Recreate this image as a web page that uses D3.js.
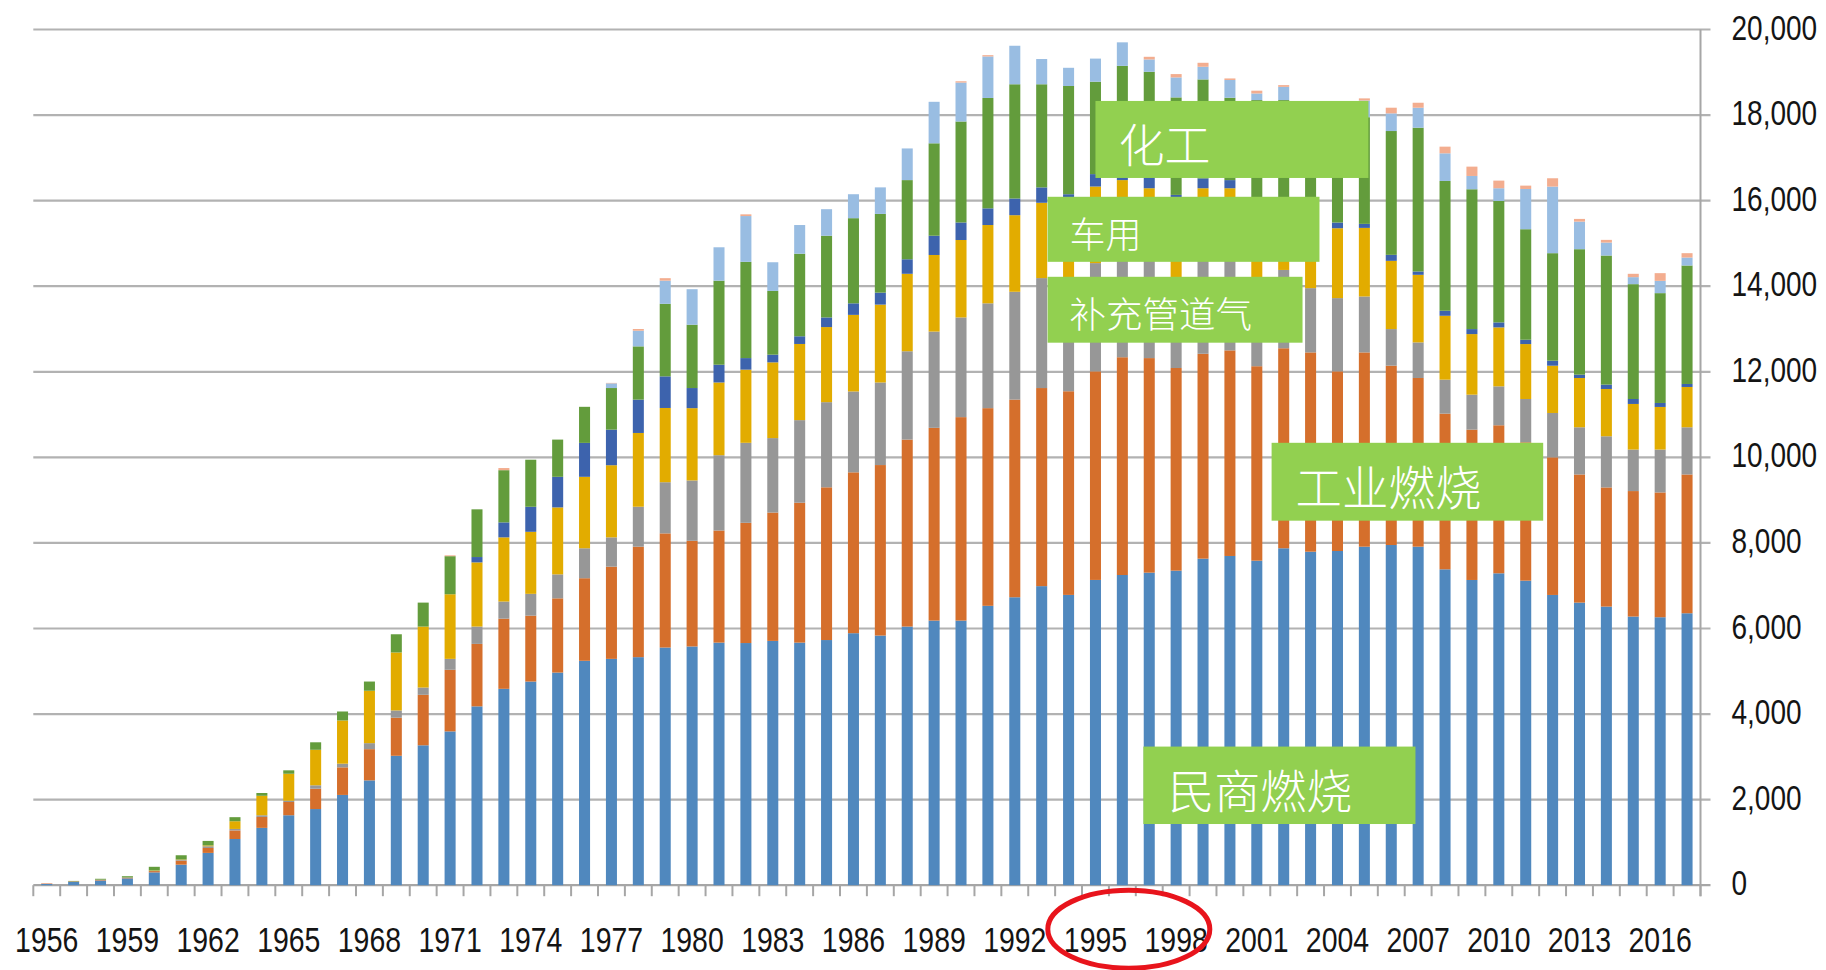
<!DOCTYPE html>
<html>
<head>
<meta charset="utf-8">
<script src="https://cdn.jsdelivr.net/npm/d3@7"></script>
<style>
  body { margin: 0; background: #fff; }
  .num { font-family: "Liberation Sans", Arial, sans-serif; fill: #141414; }
  .boxText { font-family: "Noto Sans CJK SC", sans-serif; fill: #fff; font-weight: 300; }
</style>
</head>
<body>
<svg id="chart" width="1826" height="970"></svg>
<script>
// 年份 1956-2017
const years = d3.range(1956, 2018);
const keys = ["民商燃烧", "工业燃烧", "补充管道气", "车用", "系列5", "化工", "系列7", "系列8"];
const colors = ["#5088BE", "#D56F2C", "#979797", "#E2AC00", "#3D63AD", "#639C3C", "#99BDE2", "#F3AD8F"];

const minshang = [30, 80, 110, 160, 300, 480, 755, 1080, 1340, 1635,
  1780, 2110, 2450, 3025, 3270, 3595, 4180, 4590, 4760, 4970,
  5245, 5290, 5330, 5555, 5580, 5670, 5660, 5710, 5670, 5730,
  5890, 5835, 6045, 6185, 6185, 6530, 6730, 6990, 6785, 7135,
  7250, 7305, 7352, 7632, 7695, 7585, 7875, 7795, 7811, 7912,
  7951, 7912, 7383, 7134, 7290, 7118, 6784, 6605, 6512, 6279,
  6263, 6356];
const gongye = [10, 10, 15, 15, 30, 95, 115, 200, 255, 310,
  475, 645, 730, 890, 1180, 1440, 1460, 1640, 1540, 1735,
  1930, 2155, 2582, 2668, 2470, 2620, 2810, 3000, 3270, 3570,
  3760, 3985, 4370, 4505, 4755, 4620, 4620, 4630, 4760, 4875,
  5090, 5015, 4736, 4789, 4805, 4545, 4675, 4658, 4199, 4541,
  4192, 3943, 3639, 3514, 3460, 3234, 3216, 2995, 2785, 2933,
  2917, 3244];
const buchong = [0, 0, 5, 5, 5, 15, 40, 35, 40, 30,
  80, 85, 140, 170, 170, 255, 405, 400, 510, 560,
  700, 685, 934, 1196, 1410, 1760, 1870, 1740, 1930, 1990,
  1890, 1930, 2065, 2250, 2330, 2450, 2520, 2570, 2605, 2530,
  2310, 2280, 2062, 2279, 2200, 1770, 1830, 1502, 1712, 1307,
  855, 832, 794, 817, 910, 1012, 1037, 1103, 1196, 970,
  1002, 1103];
const cheyong = [0, 0, 0, 0, 10, 10, 20, 180, 455, 630,
  830, 1010, 1225, 1355, 1425, 1510, 1500, 1500, 1450, 1565,
  1670, 1686, 1724, 1735, 1690, 1700, 1710, 1770, 1780, 1755,
  1790, 1820, 1810, 1790, 1810, 1830, 1790, 1760, 1930, 1790,
  1830, 1690, 1900, 1590, 1590, 1900, 1370, 1645, 1633, 1603,
  1595, 1579, 1493, 1416, 1377, 1284, 1105, 1152, 1105, 1066,
  996, 942];
const series5 = [0, 0, 0, 0, 0, 0, 0, 0, 0, 0,
  0, 0, 0, 0, 0, 0, 125, 350, 585, 715,
  793, 832, 779, 739, 470, 415, 270, 180, 180, 225,
  270, 280, 340, 450, 410, 390, 390, 360, 70, 290,
  270, 270, 84, 230, 190, 100, 150, 150, 133, 94,
  140, 78, 117, 117, 117, 101, 117, 78, 102, 116,
  93, 70];
const huagong = [0, 10, 20, 30, 85, 100, 105, 95, 65, 80,
  175, 210, 215, 425, 560, 890, 1115, 1220, 1100, 870,
  843, 972, 1245, 1696, 1480, 1965, 2250, 1490, 1930, 1910,
  1990, 1840, 1850, 2160, 2360, 2580, 2670, 2410, 2530, 2160,
  2400, 2452, 2279, 2313, 1925, 2450, 2450, 2150, 1812, 2493,
  2894, 3361, 3034, 3268, 2839, 2583, 2513, 2932, 3017, 2684,
  2567, 2769];
const series7 = [0, 0, 0, 0, 0, 0, 0, 0, 0, 0,
  0, 0, 0, 0, 0, 0, 0, 0, 0, 0,
  0, 110, 366, 541, 830, 780, 1070, 670, 670, 620,
  560, 620, 740, 970, 910, 970, 900, 590, 425, 540,
  550, 288, 467, 296, 415, 155, 310, 350, 500, 390,
  413, 467, 646, 311, 297, 941, 1556, 645, 303, 164,
  288, 186];
const series8 = [10, 0, 0, 0, 0, 0, 0, 0, 0, 0,
  0, 0, 0, 0, 0, 20, 0, 50, 0, 0,
  0, 10, 40, 58, 0, 0, 40, 0, 0, 0,
  0, 0, 0, 0, 30, 30, 0, 0, 0, 0,
  0, 62, 78, 93, 36, 65, 40, 50, 50, 50,
  132, 116, 156, 218, 178, 78, 195, 63, 63, 78,
  179, 102];

const yTicks = [0, 2000, 4000, 6000, 8000, 10000, 12000, 14000, 16000, 18000, 20000];
const xTickYears = [1956, 1959, 1962, 1965, 1968, 1971, 1974, 1977, 1980, 1983, 1986,
  1989, 1992, 1995, 1998, 2001, 2004, 2007, 2010, 2013, 2016];

const allSeries = [minshang, gongye, buchong, cheyong, series5, huagong, series7, series8];
const table = years.map((y, i) => {
  const row = { year: y };
  keys.forEach((k, j) => { row[k] = allSeries[j][i]; });
  return row;
});

const svg = d3.select("#chart");
const width = +svg.attr("width");
const height = +svg.attr("height");
const margin = { left: 33.3, right: 125.5, top: 29.5, bottom: 84.8 };
const x0 = margin.left, x1 = width - margin.right;
const yBase = height - margin.bottom;

const xScale = d3.scaleBand()
  .domain(years)
  .range([x0, x1])
  .paddingInner(0.59)
  .paddingOuter(0.295);
const yScale = d3.scaleLinear()
  .domain([0, 20000])
  .range([yBase, margin.top]);

const step = xScale.step();
// 类别中心（可以是小数年份）
const xAt = t => x0 + (t - years[0] + 0.5) * step;

// 网格线 + 右侧刻度
svg.append("g").selectAll("line")
  .data(yTicks)
  .join("line")
  .attr("x1", x0)
  .attr("x2", x1 + 10)
  .attr("y1", d => yScale(d))
  .attr("y2", d => yScale(d))
  .attr("stroke", d => d == 0 ? "#a6a6a6" : "#b2b2b2")
  .attr("stroke-width", 2.2);

// 右侧纵轴
svg.append("line")
  .attr("x1", x1).attr("x2", x1)
  .attr("y1", yScale(20000)).attr("y2", yBase + 11)
  .attr("stroke", "#a6a6a6").attr("stroke-width", 2);

// x轴刻度在类别之间
svg.append("g").selectAll("line")
  .data(d3.range(years.length + 1))
  .join("line")
  .attr("x1", i => x0 + i * step)
  .attr("x2", i => x0 + i * step)
  .attr("y1", yBase)
  .attr("y2", yBase + 11)
  .attr("stroke", "#a6a6a6")
  .attr("stroke-width", 2);

// 堆叠柱
const stacked = d3.stack().keys(keys)(table);
svg.append("g").selectAll("g")
  .data(stacked)
  .join("g")
  .attr("fill", (d, i) => colors[i])
  .selectAll("rect")
  .data(d => d)
  .join("rect")
  .attr("x", d => xScale(d.data.year))
  .attr("width", xScale.bandwidth())
  .attr("y", d => yScale(d[1]))
  .attr("height", d => yScale(d[0]) - yScale(d[1]));

// 纵轴标签
const fmt = d3.format(",");
svg.append("g").selectAll("text")
  .data(yTicks)
  .join("text")
  .attr("class", "num")
  .attr("font-size", 35)
  .attr("dy", "0.36em")
  .attr("transform", d => `translate(${x1 + 31},${yScale(d) - 2.5}) scale(0.8,1)`)
  .text(d => fmt(d));

// 横轴标签
svg.append("g").selectAll("text")
  .data(xTickYears)
  .join("text")
  .attr("class", "num")
  .attr("font-size", 36)
  .attr("text-anchor", "middle")
  .attr("dy", "0.36em")
  .attr("transform", d => `translate(${xAt(d)},${yBase + 54}) scale(0.79,1)`)
  .text(d => d);

// 绿色标注框
const notes = [
  { text: "化工", t0: 1995, t1: 2005.15, v0: 18330, v1: 16530, size: 46, pad: 23 },
  { text: "车用", t0: 1993.22, t1: 2003.33, v0: 16090, v1: 14570, size: 36, pad: 22 },
  { text: "补充管道气", t0: 1993.22, t1: 2002.7, v0: 14220, v1: 12680, size: 36.5, pad: 22 },
  { text: "工业燃烧", t0: 2001.55, t1: 2011.65, v0: 10340, v1: 8520, size: 46.5, pad: 24 },
  { text: "民商燃烧", t0: 1996.78, t1: 2006.9, v0: 3240, v1: 1430, size: 46, pad: 25 }
];
const noteG = svg.append("g").selectAll("g")
  .data(notes)
  .join("g");
noteG.append("rect")
  .attr("x", d => xAt(d.t0))
  .attr("y", d => yScale(d.v0))
  .attr("width", d => xAt(d.t1) - xAt(d.t0))
  .attr("height", d => yScale(d.v1) - yScale(d.v0))
  .attr("fill", "#92D050");
noteG.append("text")
  .attr("class", "boxText")
  .attr("x", d => xAt(d.t0) + d.pad)
  .attr("y", d => (yScale(d.v0) + yScale(d.v1)) / 2 + 3)
  .attr("dominant-baseline", "central")
  .attr("font-size", d => d.size)
  .text(d => d.text);

// 1995年的红圈
svg.append("ellipse")
  .attr("cx", xAt(1996.24))
  .attr("cy", yBase + 44)
  .attr("rx", 81)
  .attr("ry", 39)
  .attr("fill", "none")
  .attr("stroke", "#E8141C")
  .attr("stroke-width", 5);
</script>
</body>
</html>
